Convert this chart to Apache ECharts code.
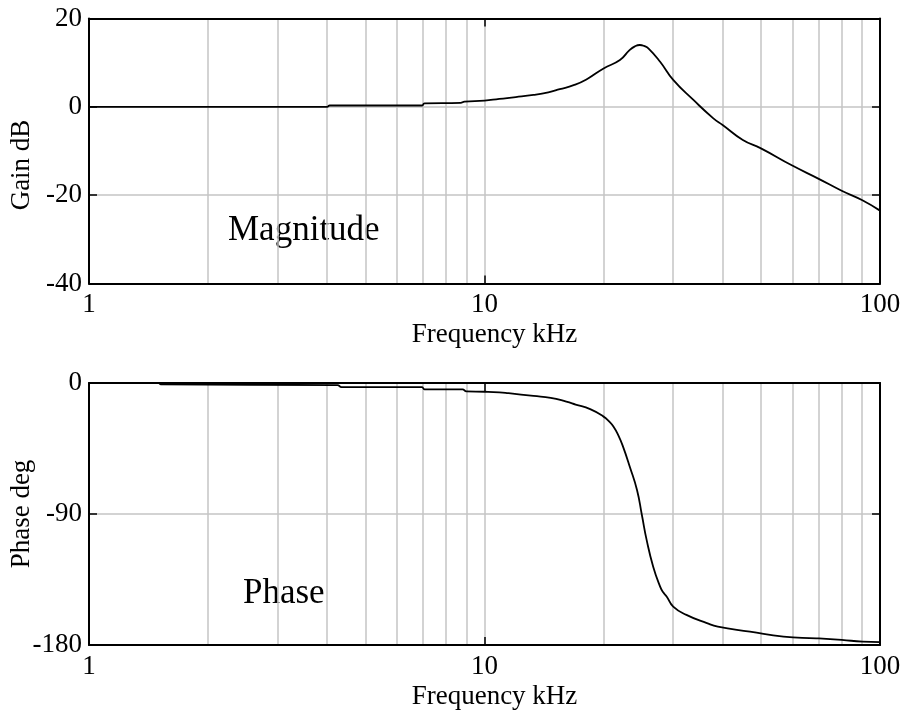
<!DOCTYPE html>
<html><head><meta charset="utf-8">
<script src="https://cdn.jsdelivr.net/npm/echarts@6/dist/echarts.min.js"></script>
<style>html,body{margin:0;padding:0;background:#fff}#c{width:906px;height:710px}</style>
</head><body><div id="c"></div>
<script>
// Magnitude response (frequency in kHz, gain in dB)
const magFreq = [1, 4.0, 4.06, 6.95, 7.05, 8.7, 8.9, 10, 10.9, 12, 13.3, 14.5, 15.5, 16.8, 18.1, 20.0, 22.0, 23.3, 24.0, 24.7, 25.3, 26.0, 27.8, 30.0, 33.8, 37.9, 40, 45, 50, 60, 70, 80, 90, 100];
const magGain = [0, 0, 0.3, 0.3, 0.8, 0.9, 1.2, 1.4, 1.8, 2.2, 2.7, 3.3, 4.0, 4.9, 6.2, 8.7, 10.6, 12.9, 13.7, 14.0, 13.8, 13.2, 10.2, 6.1, 1.5, -2.6, -4.1, -7.5, -9.4, -13.3, -16.3, -19.0, -21.1, -23.5];
// Phase response (frequency in kHz, phase in degrees)
const phaseFreq = [1, 1.5, 1.52, 4.25, 4.35, 6.95, 7.05, 8.8, 9.0, 10, 10.9, 11.5, 13.3, 14.7, 16.1, 17.0, 18.5, 20.0, 20.6, 21.2, 21.8, 22.4, 23.3, 24.3, 25.0, 25.7, 26.7, 27.8, 28.3, 28.9, 30.0, 32.4, 36.5, 38.9, 46.9, 57, 69, 80, 90.3, 100];
const phaseDeg = [0, 0, -1, -1.4, -2.9, -2.9, -4.3, -4.4, -5.8, -6.0, -6.4, -7.0, -8.9, -10.2, -12.8, -14.8, -18.0, -23.1, -26.0, -30.0, -36.0, -43.7, -57.5, -73.5, -90.7, -107.8, -126.2, -139.9, -143.8, -146.8, -153.6, -159.3, -165.0, -167.4, -170.8, -174.3, -175.4, -176.5, -177.7, -178.0];
// Grid lines
const vGridFreqs = [2, 3, 4, 5, 6, 7, 8, 9, 10, 20, 30, 40, 50, 60, 70, 80, 90];
const gainGridLines = [0, -20];
const phaseGridLines = [-90];

const FONT = 'Liberation Serif';
const gridColor = '#c4c4c4';

function zip(a, b) { return a.map((v, i) => [v, b[i]]); }

function xAx(gi, pos, withLabels) {
  return {
    type: 'log', logBase: 10, gridIndex: gi, min: 1, max: 100, position: pos, z: 5,
    axisLine: { show: true, onZero: false, lineStyle: { color: '#000', width: 2 } },
    axisTick: { show: true, inside: true, length: 8, lineStyle: { color: '#000', width: 1.5 } },
    axisLabel: { show: withLabels, fontFamily: FONT, fontSize: 27, color: '#000', margin: 8 },
    splitLine: { show: false }, minorTick: { show: false }, minorSplitLine: { show: false },
    name: withLabels ? 'Frequency kHz' : '', nameLocation: 'middle', nameGap: 38, nameMoveOverlap: false,
    nameTextStyle: { fontFamily: FONT, fontSize: 27, color: '#000', padding: [0, 0, 0, 20] }
  };
}
function yAx(gi, pos, min, max, interval, name, namePad) {
  const left = pos === 'left';
  return {
    type: 'value', gridIndex: gi, min: min, max: max, interval: interval, position: pos, z: 5,
    axisLine: { show: true, onZero: false, lineStyle: { color: '#000', width: 2 } },
    axisTick: { show: true, inside: true, length: 8, lineStyle: { color: '#000', width: 1.5 } },
    axisLabel: { show: left, fontFamily: FONT, fontSize: 27, color: '#000', margin: 7, padding: [7, 0, 0, 0] },
    splitLine: { show: false },
    name: left ? name : '', nameLocation: 'middle', nameGap: 54, nameMoveOverlap: false,
    nameTextStyle: { fontFamily: FONT, fontSize: 27, color: '#000', padding: namePad }
  };
}
function gridSeries(xi, yi, data, hLines) {
  return {
    type: 'line', xAxisIndex: xi, yAxisIndex: yi, data: data, z: 1, silent: true,
    symbol: 'none', lineStyle: { opacity: 0 },
    markLine: {
      z: 1, silent: true, symbol: ['none', 'none'], label: { show: false },
      lineStyle: { color: gridColor, width: 1.5, type: 'solid' },
      emphasis: { disabled: true },
      animation: false,
      data: vGridFreqs.map(f => ({ xAxis: f })).concat(hLines.map(v => ({ yAxis: v })))
    }
  };
}

const magData = zip(magFreq, magGain);
const phaseData = zip(phaseFreq, phaseDeg);

const chart = echarts.init(document.getElementById('c'), null, { renderer: 'canvas' });
chart.setOption({
  animation: false,
  backgroundColor: '#fff',
  grid: [
    { left: 89, right: 26, top: 18.5, height: 265, containLabel: false, outerBoundsMode: 'none' },
    { left: 89, right: 26, top: 383, height: 262, containLabel: false, outerBoundsMode: 'none' }
  ],
  xAxis: [xAx(0, 'bottom', true), xAx(0, 'top', false), xAx(1, 'bottom', true), xAx(1, 'top', false)],
  yAxis: [
    yAx(0, 'left', -40, 20, 20, 'Gain dB', [0, 28, 0, 0]),
    yAx(0, 'right', -40, 20, 20, '', 0),
    yAx(1, 'left', -180, 0, 90, 'Phase deg', 0),
    yAx(1, 'right', -180, 0, 90, '', 0)
  ],
  graphic: [
    { type: 'text', left: 228, top: 213, style: { text: 'Magnitude', font: '35px "Liberation Serif"', fill: '#000' } },
    { type: 'text', left: 243, top: 576, style: { text: 'Phase', font: '35px "Liberation Serif"', fill: '#000' } }
  ],
  series: [
    gridSeries(0, 0, magData, gainGridLines),
    gridSeries(2, 2, phaseData, phaseGridLines),
    { type: 'line', xAxisIndex: 0, yAxisIndex: 0, data: magData, symbol: 'none', smooth: 0.5, z: 3,
      lineStyle: { color: '#000', width: 1.8 } },
    { type: 'line', xAxisIndex: 2, yAxisIndex: 2, data: phaseData, symbol: 'none', smooth: 0.5, z: 3,
      lineStyle: { color: '#000', width: 1.8 } }
  ]
});
</script></body></html>
